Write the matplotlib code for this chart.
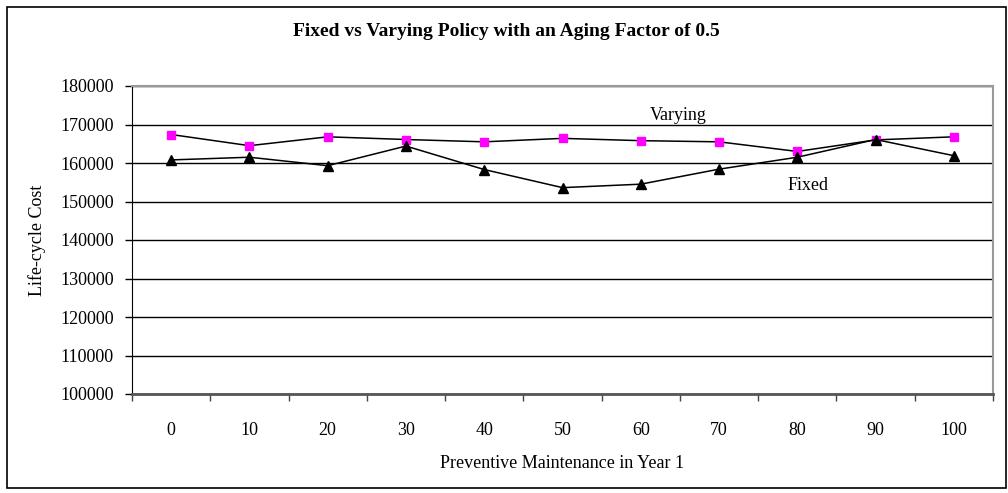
import matplotlib.pyplot as plt
from matplotlib.patches import Rectangle
import numpy as np

plt.rcParams['font.family'] = ['Liberation Serif', 'DejaVu Serif']

# preventive maintenance levels in year 1
pm_levels = ['0', '10', '20', '30', '40', '50', '60', '70', '80', '90', '100']

# life-cycle cost for each policy
varying_cost = [167400, 164500, 166800, 166100, 165500, 166400,
                165800, 165500, 163000, 166000, 166800]
fixed_cost = [160800, 161500, 159300, 164400, 158300, 153600,
              154500, 158400, 161500, 166100, 161900]

y_ticks = [100000, 110000, 120000, 130000, 140000, 150000,
           160000, 170000, 180000]

fig = plt.figure(figsize=(10.08, 4.93), dpi=100)
ax = fig.add_axes([132 / 1008, 1 - 394 / 493, 861 / 1008, 308 / 493])

# chart area border
fig.patches.append(Rectangle((7 / 1008, 1 - 488 / 493), 999 / 1008, 481 / 493,
                             transform=fig.transFigure, fill=False,
                             edgecolor='black', linewidth=1.2))

x = np.arange(len(pm_levels))

ax.plot(x, varying_cost, color='black', linewidth=1.1, marker='s',
        markersize=6, markerfacecolor='#ff00ff', markeredgecolor='#ff00ff',
        zorder=3)
ax.plot(x, fixed_cost, color='black', linewidth=1.1, marker='^',
        markersize=6.5, markerfacecolor='black', markeredgecolor='black',
        zorder=4)

ax.text(6.48, 172300, 'Varying', fontsize=13, ha='center', va='center')
ax.text(8.14, 154100, 'Fixed', fontsize=13, ha='center', va='center')

ax.set_xlim(-0.5, len(pm_levels) - 0.5)
ax.set_ylim(100000, 180000)
ax.set_yticks(y_ticks)
ax.set_yticklabels([str(v) for v in y_ticks], fontsize=13)
ax.yaxis.grid(True, color='black', linewidth=1.0)
ax.set_axisbelow(True)

ax.set_xticks(x)
ax.set_xticklabels(pm_levels, fontsize=13)
ax.set_xticks(np.arange(-0.5, len(pm_levels)), minor=True)
ax.tick_params(axis='x', which='major', length=0, pad=20)
ax.tick_params(axis='x', which='minor', length=5, width=1, direction='out',
               color='#444444')
ax.tick_params(axis='y', length=5, width=1, direction='out', pad=8)

ax.spines['left'].set_color('black')
ax.spines['bottom'].set_color('#555555')
ax.spines['bottom'].set_linewidth(2)
ax.spines['top'].set_color('#999999')
ax.spines['right'].set_color('#999999')
ax.spines['top'].set_linewidth(1.5)
ax.spines['right'].set_linewidth(1.5)

ax.set_xlabel('Preventive Maintenance in Year 1', fontsize=13, labelpad=12)
ax.set_ylabel('Life-cycle Cost', fontsize=13, labelpad=10)

fig.text(506 / 1008, 1 - 32 / 493,
         'Fixed vs Varying Policy with an Aging Factor of 0.5',
         fontsize=14, fontweight='bold', ha='center', va='center')

fig.savefig('out.png', dpi=100)
